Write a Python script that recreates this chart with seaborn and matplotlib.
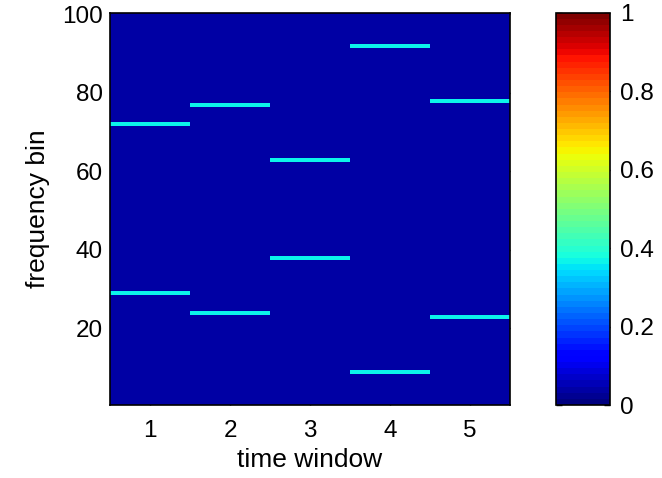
import matplotlib
matplotlib.use("Agg")
import matplotlib.pyplot as plt
import numpy as np
import pandas as pd
import seaborn as sns

# DATOS

n_bins = 100
windows = [1, 2, 3, 4, 5]
upper_bins = [72, 77, 63, 92, 78]
lower_bins = [29, 24, 38, 9, 23]
background_level = 0.035
peak_level = 0.37

# MATRIZ (filas = frequency bin 1..100, columnas = time window)

bins = np.arange(1, n_bins + 1)
spec = pd.DataFrame(background_level, index=bins, columns=windows)
for w, up, lo in zip(windows, upper_bins, lower_bins):
    spec.loc[up, w] = peak_level
    spec.loc[lo, w] = peak_level

# FIGURA

sns.set_style("ticks")
plt.rcParams["font.family"] = ["Liberation Sans", "DejaVu Sans"]
plt.rcParams["text.color"] = "black"
plt.rcParams["axes.labelcolor"] = "black"

fig = plt.figure(figsize=(6.62, 4.78), dpi=100)
ax = fig.add_axes([0.1662, 0.1527, 0.6042, 0.8211])
cax = fig.add_axes([0.8406, 0.1527, 0.0808, 0.8211])

sns.heatmap(
    spec,
    ax=ax,
    cbar_ax=cax,
    cmap=plt.get_cmap("jet", 64),
    vmin=0,
    vmax=1,
    xticklabels=windows,
    yticklabels=False,
)

ax.set_ylim(0, n_bins)
yt = [20, 40, 60, 80, 100]
ax.set_yticks([v - 0.5 for v in yt])
ax.set_yticklabels([str(v) for v in yt])

ax.set_xlabel("time window", fontsize=19, labelpad=4)
ax.set_ylabel("frequency bin", fontsize=19, labelpad=9)

for s in ax.spines.values():
    s.set_visible(True)
    s.set_linewidth(1.2)
    s.set_color("black")

ax.tick_params(
    direction="in", top=True, right=True, length=4, width=1,
    labelsize=17.5, colors="black"
)
ax.tick_params(axis="x", labelrotation=0, pad=11)
ax.tick_params(axis="y", labelrotation=0, pad=5)

# COLORBAR

cb = ax.collections[0].colorbar
cb.set_ticks([0, 0.2, 0.4, 0.6, 0.8, 1])
cb.set_ticklabels(["0", "0.2", "0.4", "0.6", "0.8", "1"])
cb.outline.set_visible(True)
cb.outline.set_linewidth(1.2)
cb.outline.set_edgecolor("black")
cax.tick_params(
    direction="in", left=True, right=True, length=4, width=1,
    labelsize=17.5, pad=7, colors="black"
)

fig.savefig("out.png", dpi=100)
plt.close(fig)
